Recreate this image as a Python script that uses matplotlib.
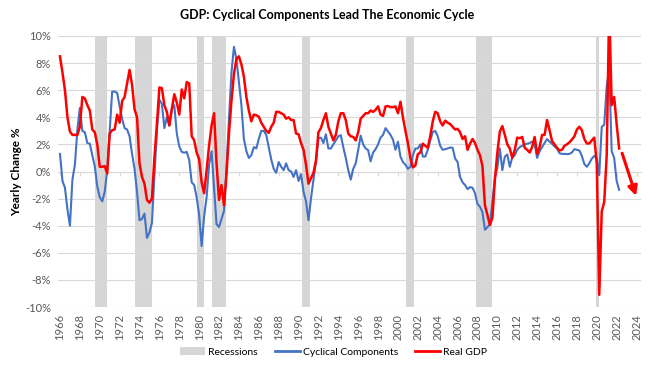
import numpy as np
import matplotlib
matplotlib.use('Agg')
import matplotlib.pyplot as plt
from matplotlib.patches import Patch
from matplotlib.lines import Line2D

plt.rcParams['font.family'] = ['Lato', 'DejaVu Sans']

# quarterly data, first point is 1966 Q1
start_year = 1966.0

# Real GDP, yearly change %
real_gdp = [
    8.5, 7.3, 6.0, 4.0,        # 1966
    2.95, 2.7, 2.7, 2.7,       # 1967
    3.3, 5.5, 5.4, 4.9,        # 1968
    4.5, 3.1, 2.9, 2.0,        # 1969
    0.35, 0.35, 0.4, -0.15,    # 1970
    2.8, 3.05, 3.1, 4.2,       # 1971
    3.6, 5.2, 5.5, 6.5,        # 1972
    7.5, 6.4, 4.6, 4.0,        # 1973
    0.6, -0.4, -0.9, -2.1,     # 1974
    -2.3, -2.0, 1.0, 3.5,      # 1975
    6.2, 6.15, 4.9, 4.4,       # 1976
    3.4, 4.6, 5.7, 5.1,        # 1977
    4.2, 6.05, 5.4, 6.6,       # 1978
    6.5, 2.6, 2.3, 1.4,        # 1979
    0.9, -0.8, -1.6, 0.1,      # 1980
    1.9, 3.4, 4.3, 0.6,        # 1981
    -2.1, -1.0, -2.5, -0.2,    # 1982
    2.8, 5.2, 7.2, 8.3,        # 1983
    8.5, 7.9, 7.0, 5.5,        # 1984
    4.5, 3.7, 4.2, 4.15,       # 1985
    4.05, 3.6, 3.3, 3.0,       # 1986
    2.85, 3.3, 3.6, 4.4,       # 1987
    4.4, 4.3, 4.2, 3.9,        # 1988
    4.0, 3.8, 3.8, 2.8,        # 1989
    2.75, 2.1, 1.6, 0.5,       # 1990
    -0.9, -0.5, -0.1, 0.8,     # 1991
    2.9, 3.2, 3.8, 4.3,        # 1992
    3.3, 2.8, 2.3, 2.7,        # 1993
    3.7, 4.3, 4.3, 3.8,        # 1994
    2.8, 2.6, 2.55, 2.3,       # 1995
    2.9, 3.9, 4.1, 4.3,        # 1996
    4.3, 4.5, 4.4, 4.55,       # 1997
    4.8, 4.2, 4.1, 4.8,        # 1998
    4.83, 4.75, 4.75, 4.8,     # 1999
    4.3, 5.15, 4.0, 3.0,       # 2000
    2.1, 1.0, 0.3, 0.45,       # 2001
    1.28, 1.4, 2.05, 1.9,      # 2002
    1.75, 2.6, 3.7, 4.4,       # 2003
    4.3, 3.7, 3.4, 3.75,       # 2004
    3.6, 3.5, 3.3, 3.1,        # 2005
    3.15, 2.9, 2.4, 2.6,       # 2006
    1.6, 2.05, 2.4, 2.1,       # 2007
    1.6, 1.2, 0.4, -2.5,       # 2008
    -3.2, -3.95, -3.4, -0.6,   # 2009
    1.4, 2.95, 3.35, 2.7,      # 2010
    2.0, 1.7, 1.0, 1.6,        # 2011
    2.5, 2.45, 2.55, 1.75,     # 2012
    1.6, 1.4, 1.8, 2.55,       # 2013
    1.3, 1.8, 2.7, 2.7,        # 2014
    3.8, 3.05, 2.25, 2.0,      # 2015
    1.75, 1.55, 1.6, 1.9,      # 2016
    2.0, 2.15, 2.35, 2.6,      # 2017
    3.1, 3.3, 3.05, 2.4,       # 2018
    2.07, 2.07, 2.3, 2.5,      # 2019
    0.6, -9.1, -2.95, -2.25,   # 2020
    1.2, 12.2, 4.9, 5.5,       # 2021
    3.5, 1.7,                  # 2022
]

# Cyclical components, yearly change %
cyclical = [
    1.3, -0.7, -1.2, -2.8,     # 1966
    -4.0, -0.6, 0.5, 3.1,      # 1967
    4.7, 3.0, 2.9, 2.1,        # 1968
    2.05, 1.2, 0.4, -1.1,      # 1969
    -1.9, -2.2, -1.5, 0.1,     # 1970
    3.0, 5.9, 5.9, 5.8,        # 1971
    4.8, 3.9, 3.2, 3.1,        # 1972
    2.6, 1.3, 0.2, -1.5,       # 1973
    -3.6, -3.5, -3.1, -4.9,    # 1974
    -4.5, -3.8, -0.3, 3.0,     # 1975
    5.3, 5.0, 3.2, 4.0,        # 1976
    3.4, 4.6, 4.9, 2.8,        # 1977
    1.85, 1.45, 1.38, 1.45,    # 1978
    0.85, -0.8, -1.0, -1.9,    # 1979
    -3.2, -5.5, -3.3, -1.9,    # 1980
    0.5, 1.5, -1.2, -3.9,      # 1981
    -4.1, -3.5, -2.9, 0.2,     # 1982
    3.9, 7.3, 9.2, 8.3,        # 1983
    6.6, 4.9, 2.4, 1.5,        # 1984
    1.0, 1.2, 1.8, 1.7,        # 1985
    2.4, 3.0, 3.0, 2.7,        # 1986
    1.8, 0.9, 0.2, -0.1,       # 1987
    0.7, 0.35, 0.1, 0.6,       # 1988
    0.1, 0.0, -0.4, 0.1,       # 1989
    -0.7, -0.2, -1.5, -2.2,    # 1990
    -3.6, -2.0, -0.6, 0.7,     # 1991
    2.45, 2.5, 2.1, 2.75,      # 1992
    1.7, 1.7, 2.0, 2.3,        # 1993
    2.6, 2.68, 1.8, 1.0,       # 1994
    0.1, -0.6, 0.2, 0.6,       # 1995
    1.6, 2.65, 2.0, 1.7,       # 1996
    1.58, 0.75, 1.4, 1.65,     # 1997
    2.0, 2.5, 2.7, 3.2,        # 1998
    2.95, 2.7, 2.35, 1.6,      # 1999
    2.2, 1.1, 0.7, 0.5,        # 2000
    0.2, 0.35, 1.2, 1.7,       # 2001
    1.7, 2.0, 1.1, 1.1,        # 2002
    1.6, 2.3, 2.9, 3.0,        # 2003
    2.6, 1.9, 1.6, 1.65,       # 2004
    1.7, 1.77, 1.75, 0.96,     # 2005
    0.7, -0.4, -0.8, -1.0,     # 2006
    -1.3, -1.15, -1.2, -1.6,   # 2007
    -2.4, -2.6, -3.0, -4.3,    # 2008
    -4.1, -3.9, -2.2, -0.5,    # 2009
    0.3, 1.7, 0.1, 1.1,        # 2010
    1.25, 0.35, 1.05, 1.2,     # 2011
    1.6, 1.8, 1.9, 2.0,        # 2012
    2.05, 2.1, 2.2, 2.05,      # 2013
    1.0, 1.5, 1.8, 2.1,        # 2014
    2.4, 2.2, 2.05, 1.85,      # 2015
    1.7, 1.35, 1.3, 1.3,       # 2016
    1.28, 1.3, 1.4, 1.65,      # 2017
    1.6, 1.55, 1.15, 0.55,     # 2018
    0.35, 0.6, 0.95, 1.15,     # 2019
    0.95, -0.27, 3.3, 3.45,    # 2020
    6.3, 7.5, 1.5, 1.0,        # 2021
    -0.7, -1.35,               # 2022
]

# recession periods (start, end)
rec_start = [1969.52, 1973.55, 1979.78, 1981.32, 1990.38, 2000.81, 2007.85, 2019.92]
rec_end = [1970.69, 1975.22, 1980.46, 1982.67, 1991.18, 2001.64, 2009.43, 2020.19]

year_ticks = list(range(1966, 2025, 2))

GRID = '#d9d9d9'
TXT = '#595959'
BLUE = '#4472c4'
RED = '#ff0000'

t = start_year + 0.25 * np.arange(len(real_gdp))

fig = plt.figure(figsize=(6.54, 3.67), dpi=100)
ax = fig.add_axes([58/654, 1 - 307/367, 583/654, 271/367])

for s, e in zip(rec_start, rec_end):
    ax.axvspan(s, e, color='#d6d6d6', lw=0, zorder=0)

ax.plot(t, cyclical, color=BLUE, lw=1.5, zorder=3)
ax.plot(t, real_gdp, color=RED, lw=1.8, zorder=4)

# arrow pointing to where the cycle is heading
ax.annotate('', xy=(2023.95, -1.8), xytext=(2022.55, 1.35),
            arrowprops=dict(arrowstyle='-|>', color=RED, lw=2.2,
                            mutation_scale=14, shrinkA=0, shrinkB=0),
            zorder=5)

ax.set_xlim(1965.8, 2024.45)
ax.set_ylim(-10, 10)
ax.set_yticks(np.arange(-10, 11, 2))
ax.set_yticklabels([f'{v}%' for v in range(-10, 11, 2)])
ax.yaxis.grid(True, color=GRID, lw=0.8, zorder=1)
ax.set_axisbelow(True)

for side in ['top', 'right', 'left']:
    ax.spines[side].set_visible(False)
# the axis line sits on 0% with small ticks, labels stay at the bottom
ax.spines['bottom'].set_position(('data', 0))
ax.spines['bottom'].set_color(GRID)
ax.set_xticks(year_ticks)
ax.tick_params(axis='x', length=3, color=GRID, labelbottom=False)
ax.tick_params(axis='y', length=0, pad=5, labelsize=8, labelcolor=TXT)

sec = ax.secondary_xaxis('bottom')
sec.set_xticks(year_ticks)
sec.set_xticklabels([str(y) for y in year_ticks], rotation=90)
sec.tick_params(length=0, pad=5, labelsize=8, labelcolor=TXT)
sec.spines['bottom'].set_visible(False)

ax.set_ylabel('Yearly Change %', fontsize=8.5, fontweight='bold', labelpad=2)
fig.suptitle('GDP: Cyclical Components Lead The Economic Cycle',
             fontsize=9, fontweight='bold', y=0.975)

handles = [Patch(facecolor='#d6d6d6', edgecolor='none'),
           Line2D([], [], color=BLUE, lw=2),
           Line2D([], [], color=RED, lw=2)]
fig.legend(handles, ['Recessions', 'Cyclical Components', 'Real GDP'],
           loc='center', bbox_to_anchor=(0.51, 0.041), ncol=3, frameon=False,
           fontsize=7.5, handlelength=2.4, handletextpad=0.3, columnspacing=1.6)

fig.savefig('out.png', dpi=100)
